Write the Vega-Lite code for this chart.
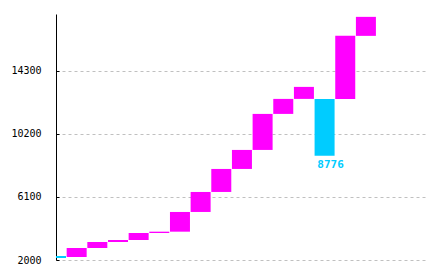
{
  "$schema": "https://vega.github.io/schema/vega-lite/v6.json",
  "width": 369,
  "height": 246,
  "autosize": {"type": "none"},
  "padding": {"left": 56, "top": 14, "right": 9, "bottom": 14},
  "background": "white",
  "config": {"view": {"stroke": null}},
  "data": {
    "values": [
      {"i": 0, "lo": 2130, "hi": 2260, "kind": "total", "label": ""},
      {"i": 1, "lo": 2195, "hi": 2781, "kind": "change", "label": ""},
      {"i": 2, "lo": 2781, "hi": 3171, "kind": "change", "label": ""},
      {"i": 3, "lo": 3171, "hi": 3302, "kind": "change", "label": ""},
      {"i": 4, "lo": 3302, "hi": 3757, "kind": "change", "label": ""},
      {"i": 5, "lo": 3757, "hi": 3842, "kind": "change", "label": ""},
      {"i": 6, "lo": 3842, "hi": 5124, "kind": "change", "label": ""},
      {"i": 7, "lo": 5124, "hi": 6425, "kind": "change", "label": ""},
      {"i": 8, "lo": 6425, "hi": 7922, "kind": "change", "label": ""},
      {"i": 9, "lo": 7922, "hi": 9159, "kind": "change", "label": ""},
      {"i": 10, "lo": 9159, "hi": 11502, "kind": "change", "label": ""},
      {"i": 11, "lo": 11502, "hi": 12478, "kind": "change", "label": ""},
      {"i": 12, "lo": 12478, "hi": 13259, "kind": "change", "label": ""},
      {"i": 13, "lo": 8776, "hi": 12478, "kind": "total", "label": "8776"},
      {"i": 14, "lo": 12478, "hi": 16578, "kind": "change", "label": ""},
      {"i": 15, "lo": 16578, "hi": 17814, "kind": "change", "label": ""}
    ]
  },
  "encoding": {
    "x": {"field": "i", "type": "quantitative", "scale": {"domain": [0, 17.86], "nice": false, "zero": false, "padding": 0}, "axis": null}
  },
  "layer": [
    {
      "mark": {"type": "bar", "width": 20, "clip": true},
      "encoding": {
        "y": {
          "field": "lo",
          "type": "quantitative",
          "scale": {"domain": [2000, 18000], "nice": false, "zero": false, "padding": 0},
          "axis": {
            "values": [2000, 6100, 10200, 14300],
            "format": "d",
            "title": null,
            "grid": true,
            "gridColor": "#c0c0c0",
            "gridDash": [3, 3],
            "gridWidth": 1,
            "domainColor": "black",
            "domainWidth": 1,
            "tickColor": "black",
            "tickSize": -3,
            "labelPadding": 18,
            "labelFont": "DejaVu Sans Mono",
            "labelFontSize": 10,
            "labelColor": "black"
          }
        },
        "y2": {"field": "hi"},
        "color": {
          "field": "kind",
          "type": "nominal",
          "scale": {"domain": ["total", "change"], "range": ["#00ccff", "#ff00ff"]},
          "legend": null
        }
      }
    },
    {
      "mark": {"type": "text", "baseline": "top", "dy": 3, "dx": 6, "font": "DejaVu Sans Mono", "fontWeight": "bold", "fontSize": 11, "color": "#00ccff"},
      "encoding": {
        "y": {"field": "lo", "type": "quantitative"},
        "text": {"field": "label"}
      }
    }
  ]
}
